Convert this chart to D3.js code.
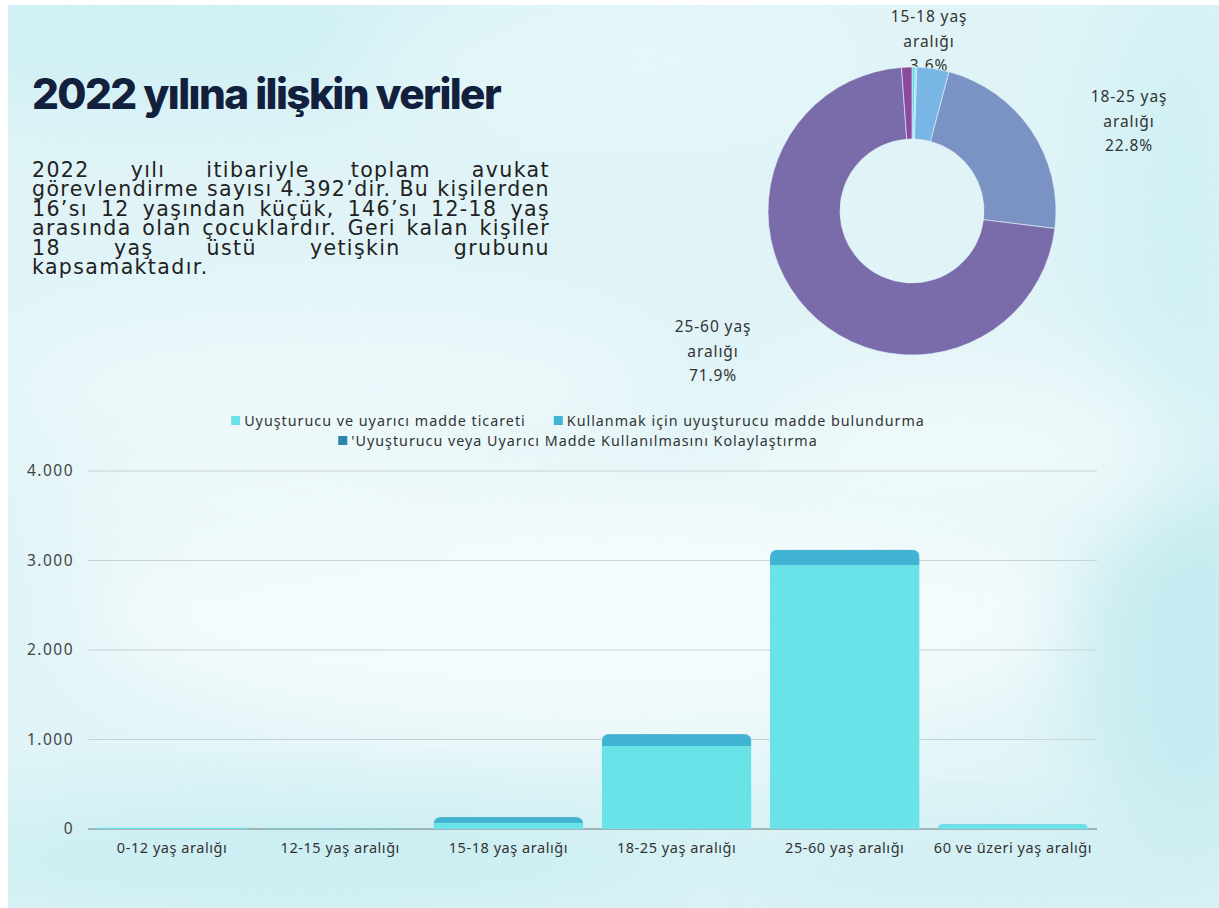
<!DOCTYPE html>
<html><head><meta charset="utf-8">
<script src="https://cdn.jsdelivr.net/npm/d3@7"></script>
<style>
html,body{margin:0;padding:0;background:#fff;}
svg{display:block;}
</style></head>
<body>
<svg id="chart" width="1219" height="908"></svg>
<script>
// ---------------- DATA ----------------
const titleText = "2022 yılına ilişkin veriler";
const paragraphLines = [
  "2022 yılı itibariyle toplam avukat",
  "görevlendirme sayısı 4.392’dir. Bu kişilerden",
  "16’sı 12 yaşından küçük, 146’sı 12-18 yaş",
  "arasında olan çocuklardır. Geri kalan kişiler",
  "18 yaş üstü yetişkin grubunu",
  "kapsamaktadır."
];
const categories = ["0-12 yaş aralığı","12-15 yaş aralığı","15-18 yaş aralığı","18-25 yaş aralığı","25-60 yaş aralığı","60 ve üzeri yaş aralığı"];
const seriesNames = ["Uyuşturucu ve uyarıcı madde ticareti","Kullanmak için uyuşturucu madde bulundurma","'Uyuşturucu veya Uyarıcı Madde Kullanılmasını Kolaylaştırma"];
const ticaret      = [14, 6, 68, 927, 2950, 52];
const bulundurma   = [2, 2, 64, 131, 167, 3];
const kolaylastirma= [0, 0, 2, 3, 4, 0];
const yTicks = [0, 1000, 2000, 3000, 4000];
const pieCategories = ["0-12 yaş aralığı","12-15 yaş aralığı","15-18 yaş aralığı","18-25 yaş aralığı","25-60 yaş aralığı","60 ve üzeri yaş aralığı"];
const pieValues = [16, 8, 158, 1001, 3158, 51];

// ---------------- STYLE ----------------
const seriesColors = ["#6ae3e8", "#41b4d4", "#2b86b2"];
const pieColors = ["#5fd8ee", "#8fd6f2", "#78b6e6", "#7b93c4", "#7a6cab", "#8b4b9c"];
const W = 1219, H = 908;
const FONT = "'Noto Sans', sans-serif";
const svg = d3.select("#chart");
const defs = svg.append("defs");

// ---------------- BACKGROUND ----------------
const blur = defs.append("filter").attr("id","blur").attr("x","-50%").attr("y","-50%").attr("width","200%").attr("height","200%");
blur.append("feGaussianBlur").attr("stdDeviation", 45);
defs.append("clipPath").attr("id","bgclip").append("rect").attr("x",8).attr("y",5).attr("width",W-8).attr("height",H-5);
const bg = svg.append("g").attr("clip-path","url(#bgclip)");
bg.append("rect").attr("x",8).attr("y",5).attr("width",W-8).attr("height",H-5).attr("fill","#e0f4f7");
const patches = [
  {cx:150, cy:30,  rx:420, ry:70,  c:"#cdeff4"},
  {cx:600, cy:60,  rx:250, ry:60,  c:"#e6f7f9"},
  {cx:330, cy:390, rx:330, ry:70,  c:"#eef9fb"},
  {cx:600, cy:610, rx:520, ry:130, c:"#f4fbfc"},
  {cx:250, cy:500, rx:200, ry:60,  c:"#eff9fa"},
  {cx:300, cy:860, rx:420, ry:55,  c:"#c8edf2"},
  {cx:1190,cy:660, rx:110, ry:200, c:"#c6ebf0"},
  {cx:1180,cy:220, rx:90,  ry:260, c:"#d2f1f5"},
  {cx:1000,cy:870, rx:320, ry:45,  c:"#cdeef2"},
  {cx:960, cy:450, rx:220, ry:90,  c:"#eef9fa"}
];
bg.selectAll("ellipse").data(patches).join("ellipse")
  .attr("cx",d=>d.cx).attr("cy",d=>d.cy).attr("rx",d=>d.rx).attr("ry",d=>d.ry)
  .attr("fill",d=>d.c).attr("filter","url(#blur)");

// ---------------- TITLE ----------------
const title = svg.append("text").attr("x",32).attr("y",109)
  .attr("font-family","Inter, 'Open Sans', sans-serif").attr("font-weight",800)
  .attr("font-size",42).attr("letter-spacing","-1.6").attr("fill","#13203d").text(titleText);
const tw = title.node().getComputedTextLength();
title.attr("font-size", 42 * 468 / tw);

// ---------------- PARAGRAPH (justified) ----------------
const paraX = 32, paraW = 518, paraY0 = 177, paraLH = 19.4, paraFS = 20.5;
const pg = svg.append("g").attr("font-family","'DejaVu Sans', sans-serif").attr("font-size",paraFS).attr("fill","#222");
const meas = pg.append("text").text(paragraphLines[1]);
const natural = meas.node().getComputedTextLength();
const ls = (paraW - natural) / paragraphLines[1].length;
meas.remove();
paragraphLines.forEach((line, i) => {
  const yy = paraY0 + i * paraLH;
  const words = line.split(" ");
  const last = i === paragraphLines.length - 1;
  if (last) {
    pg.append("text").attr("x",paraX).attr("y",yy).attr("letter-spacing",ls).text(line);
    return;
  }
  const nodes = words.map(w => pg.append("text").attr("y",yy).attr("letter-spacing",ls).text(w));
  const widths = nodes.map(n => n.node().getComputedTextLength());
  const sum = d3.sum(widths);
  const gap = (paraW - sum) / (words.length - 1);
  let xx = paraX;
  nodes.forEach((n, k) => { n.attr("x", xx); xx += widths[k] + gap; });
});

// ---------------- PIE / DONUT ----------------
const pieCx = 912, pieCy = 211, rOut = 144, rIn = 72;
const pieLabelPos = {
  "15-18 yaş aralığı": [929, 22],
  "18-25 yaş aralığı": [1129, 102],
  "25-60 yaş aralığı": [713, 332]
};
const total = d3.sum(pieValues);
const pctFmt = d3.format(".1f");
const lg = svg.append("g").attr("font-family",FONT).attr("font-size",15.5).attr("fill","#333").attr("text-anchor","middle");
pieCategories.forEach((c, i) => {
  const p = pieLabelPos[c];
  if (!p) return;
  const parts = c.split(" ");
  const lines = [parts[0] + " " + parts[1], parts[2], pctFmt(pieValues[i] / total * 100) + "%"];
  lines.forEach((t, k) => lg.append("text").attr("x",p[0]).attr("y",p[1] + k*24.5).attr("letter-spacing",0.9).text(t));
});
const pie = d3.pie().sort(null).value(d=>d)(pieValues);
const arc = d3.arc().innerRadius(rIn).outerRadius(rOut);
svg.append("g").attr("transform",`translate(${pieCx},${pieCy})`)
  .selectAll("path").data(pie).join("path")
  .attr("d",arc).attr("fill",(d,i)=>pieColors[i])
  .attr("stroke","#e8f4f8").attr("stroke-width",0.6);

// ---------------- BAR CHART ----------------
const m = {left:88, right:1097, top:471, bottom:829};
const x = d3.scaleBand().domain(categories).range([m.left, m.right]).paddingInner(0.11).paddingOuter(0.055);
const y = d3.scaleLinear().domain([0, 4000]).range([m.bottom, m.top]);
const tr = d3.formatLocale({decimal:",", thousands:".", grouping:[3], currency:["₺",""]});
const fmt = tr.format(",d");

const grid = svg.append("g");
grid.selectAll("line").data(yTicks).join("line")
  .attr("x1",m.left).attr("x2",m.right).attr("y1",d=>y(d)).attr("y2",d=>y(d))
  .attr("stroke",d=>d===0?"#6f7a7c":"#c9d2d4").attr("stroke-width",1);

const yAxis = svg.append("g").attr("transform",`translate(${m.left - 11},0)`)
  .call(d3.axisLeft(y).tickValues(yTicks).tickFormat(fmt).tickSize(0));
yAxis.select(".domain").remove();
yAxis.selectAll("text").attr("font-family",FONT).attr("font-size",15.5).attr("fill","#444").attr("letter-spacing",1.5);

const xAxis = svg.append("g").attr("transform",`translate(0,${m.bottom})`)
  .call(d3.axisBottom(x).tickSize(0).tickPadding(14));
xAxis.select(".domain").remove();
xAxis.selectAll("text").attr("font-family",FONT).attr("font-size",14.5).attr("fill","#333").attr("letter-spacing",0.55);

const rows = categories.map((c,i)=>({cat:c, s0:ticaret[i], s1:bulundurma[i], s2:kolaylastirma[i]}));
const stack = d3.stack().keys(["s0","s1","s2"])(rows);
const radius = 8;
function topRounded(x0, y0, w, h, r) {
  r = Math.min(r, h, w/2);
  return `M${x0},${y0+h}V${y0+r}Q${x0},${y0} ${x0+r},${y0}H${x0+w-r}Q${x0+w},${y0} ${x0+w},${y0+r}V${y0+h}Z`;
}
rows.forEach((r, i) => {
  const tot = r.s0 + r.s1 + r.s2;
  defs.append("clipPath").attr("id", "clip" + i).append("path")
    .attr("d", topRounded(x(r.cat), y(tot), x.bandwidth(), y(0) - y(tot), radius));
});
const bars = svg.append("g");
stack.forEach((layer, si) => {
  bars.append("g").attr("fill", seriesColors[si])
    .selectAll("rect").data(layer).join("rect")
    .attr("clip-path",(d,i)=>`url(#clip${i})`)
    .attr("x",d=>x(d.data.cat)).attr("width",x.bandwidth())
    .attr("y",d=>y(d[1])).attr("height",d=>Math.max(0, y(d[0]) - y(d[1])));
});

// legend
const leg = svg.append("g").attr("font-family",FONT).attr("font-size",14.3).attr("fill","#333");
const legendRows = [[0,1],[2]];
const legendY = [421, 441];
const legCenter = 578;
legendRows.forEach((row, ri) => {
  const g = leg.append("g");
  let xx = 0;
  row.forEach((si) => {
    g.append("rect").attr("x",xx).attr("y",legendY[ri]-5).attr("width",9).attr("height",9).attr("fill",seriesColors[si]);
    const t = g.append("text").attr("x",xx+13).attr("y",legendY[ri]+5).attr("letter-spacing",1.0).text(seriesNames[si]);
    xx += 13 + t.node().getComputedTextLength() + 28;
  });
  const wRow = xx - 28;
  g.attr("transform",`translate(${legCenter - wRow/2},0)`);
});
</script>
</body></html>
